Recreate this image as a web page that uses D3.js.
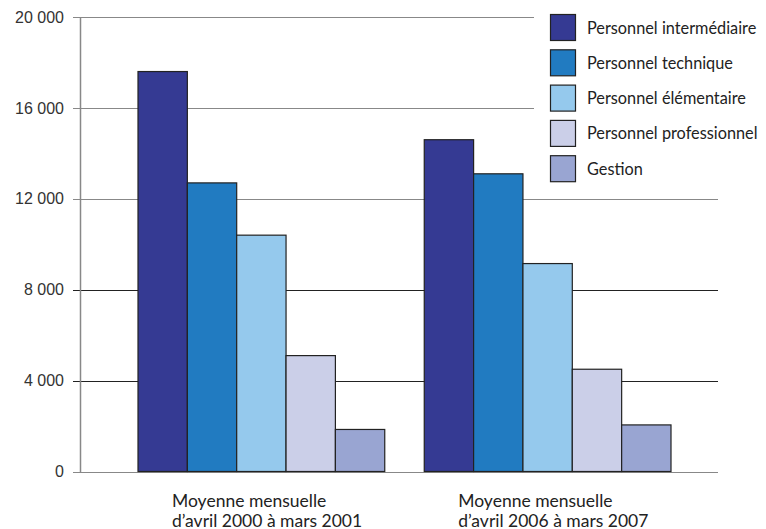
<!DOCTYPE html>
<html><head><meta charset="utf-8">
<script src="https://cdn.jsdelivr.net/npm/d3@7"></script>
<style>body{margin:0;background:#fff}svg{display:block}</style>
</head><body>
<svg id="c" width="766" height="529"></svg>
<script>
const categories = [["Moyenne mensuelle","d’avril 2000 à mars 2001"],["Moyenne mensuelle","d’avril 2006 à mars 2007"]];
const series = ["Personnel intermédiaire","Personnel technique","Personnel élémentaire","Personnel professionnel","Gestion"];
const colors = ["#353a93","#217bc1","#95c9ed","#cbcfe8","#99a5d2"];
const values2000 = [17600,12700,10400,5100,1850];
const values2006 = [14600,13100,9150,4500,2050];
const values = [values2000, values2006];
const yTicks = [0,4000,8000,12000,16000,20000];

const svg = d3.select("#c");
const y = d3.scaleLinear().domain([0,20000]).range([471.5,17]);
const x0 = d3.scaleBand().domain([0,1]).range([138,671]).paddingInner(0.138).paddingOuter(0);
const x1 = d3.scaleBand().domain(d3.range(series.length)).range([0,x0.bandwidth()]);
const fmt = v => d3.format(",")(v).replace(/,/g," ");

// gridlines
const grid = svg.append("g");
yTicks.forEach(t=>{
  grid.append("line").attr("x1",73).attr("x2",718).attr("y1",Math.round(y(t))+0.5).attr("y2",Math.round(y(t))+0.5)
    .attr("stroke", (t===8000||t===4000)?"#222":"#888").attr("stroke-width",1.2);
});
// y axis
const yAxis = d3.axisLeft(y).tickValues(yTicks).tickFormat(fmt).tickSize(0).tickPadding(9);
const ga = svg.append("g").attr("transform","translate(73,0)").call(yAxis);
ga.select(".domain").remove();
ga.selectAll("text").attr("font-family","Liberation Sans, Arial, sans-serif").attr("font-size",16).attr("fill","#333");
svg.append("line").attr("x1",80.5).attr("x2",80.5).attr("y1",17).attr("y2",472).attr("stroke","#888").attr("stroke-width",1.5);

// bars
values.forEach((vals,g)=>{
  svg.append("g").selectAll("rect").data(vals).join("rect")
    .attr("x",(d,i)=>x0(g)+x1(i))
    .attr("y",d=>y(d))
    .attr("width",x1.bandwidth())
    .attr("height",d=>y(0)-y(d))
    .attr("fill",(d,i)=>colors[i])
    .attr("stroke","#222").attr("stroke-width",1.2);
});

// legend (white background covers gridlines)
svg.append("rect").attr("x",534).attr("y",0).attr("width",232).attr("height",190).attr("fill","#fff");
const lg = svg.append("g");
series.forEach((s,i)=>{
  const yy = 14 + i*35.3;
  lg.append("rect").attr("x",550.5).attr("y",yy+0.5).attr("width",25).attr("height",26)
    .attr("fill",colors[i]).attr("stroke","#222").attr("stroke-width",1.2);
  lg.append("text").attr("x",587).attr("y",yy+19.5).text(s)
    .attr("font-family","Lato, sans-serif").attr("font-size",16.3).attr("fill","#222");
});

// category labels
categories.forEach((lines,g)=>{
  const lx = x0(g)+34;
  lines.forEach((l,k)=>{
    svg.append("text").attr("x",lx).attr("y",506.5+k*20).text(l)
      .attr("font-family","Lato, sans-serif").attr("font-size",17.5).attr("fill","#222");
  });
});
</script>
</body></html>
